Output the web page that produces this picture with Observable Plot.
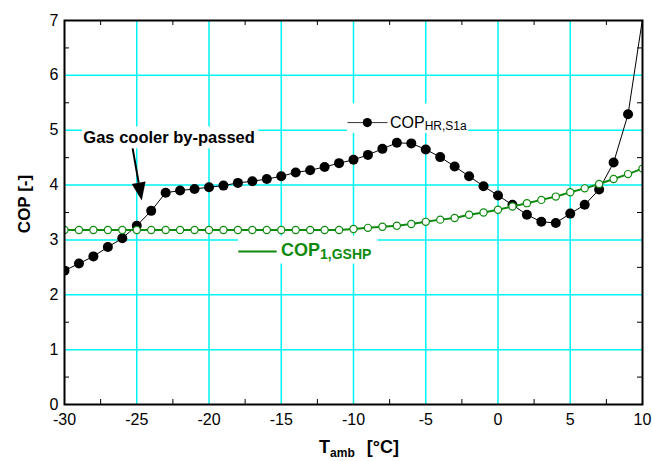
<!DOCTYPE html>
<html>
<head>
<meta charset="utf-8">
<script src="https://cdn.jsdelivr.net/npm/d3@7"></script>
<script src="https://cdn.jsdelivr.net/npm/@observablehq/plot@0.6"></script>
<style>
  html, body { margin: 0; padding: 0; background: #fff; }
  #chart svg { display: block; }
</style>
</head>
<body>
<div id="chart"></div>
<script>
// ---- Data ----
const tAmb = [-30,-29,-28,-27,-26,-25,-24,-23,-22,-21,-20,-19,-18,-17,-16,-15,-14,-13,-12,-11,
              -10,-9,-8,-7,-6,-5,-4,-3,-2,-1,0,1,2,3,4,5,6,7,8,9,10];
const copHR = [2.44,2.57,2.70,2.87,3.03,3.26,3.53,3.86,3.90,3.93,3.96,3.99,4.04,4.07,4.11,4.16,4.23,4.27,4.33,4.40,
               4.46,4.55,4.66,4.77,4.76,4.65,4.51,4.34,4.16,3.98,3.81,3.64,3.46,3.33,3.31,3.48,3.64,3.92,4.41,5.29,7.03];
const copGSHP = [3.18,3.18,3.18,3.18,3.18,3.18,3.18,3.18,3.18,3.18,3.18,3.18,3.18,3.18,3.18,3.18,3.18,3.18,3.18,3.18,
                 3.20,3.22,3.24,3.26,3.29,3.33,3.37,3.40,3.46,3.50,3.55,3.61,3.67,3.73,3.79,3.87,3.94,4.02,4.11,4.20,4.30];

const xTickLabels = [-30,-25,-20,-15,-10,-5,0,5,10];
const yTickLabels = [0,1,2,3,4,5,6,7];
const xGrid = [-25,-20,-15,-10,-5,0,5];
const yGrid = [1,2,3,4,5,6];
const xMinor = [-27.5,-22.5,-17.5,-12.5,-7.5,-2.5,2.5,7.5];
const yMinor = [0.5,1.5,2.5,3.5,4.5,5.5,6.5];

const seriesNames = ["COP", "HR,S1a", "1,GSHP"];
const annotationText = "Gas cooler by-passed";
const xTitle = ["T", "amb", "[°C]"];
const yTitle = "COP [-]";

// ---- Styling / layout constants ----
const W = 652, H = 461;
const mL = 64, mR = 10, mT = 20, mB = 57;
const FONT = "'Liberation Sans', Arial, Helvetica, sans-serif";
const CYAN = "#00f4f4";
const GREEN = "#0f8a0f";

const hrData = tAmb.map((t, i) => ({t, cop: copHR[i]}));
const gsData = tAmb.map((t, i) => ({t, cop: copGSHP[i]}));

const tickLenX = 5 / ((W - mL - mR) / 40);
const tickLenY = 5 / ((H - mT - mB) / 7);

// white boxes behind legend / annotation (data units)
const boxes = [
  {x1: -10.42, x2: -2.02, y1: 4.94, y2: 5.48},
  {x1: -17.96, x2: -8.30, y1: 2.56, y2: 3.07},
  {x1: -28.75, x2: -16.55, y1: 4.66, y2: 5.06}
];

const chart = Plot.plot({
  width: W, height: H,
  marginLeft: mL, marginRight: mR, marginTop: mT, marginBottom: mB,
  x: {domain: [-30, 10]},
  y: {domain: [0, 7]},
  style: {fontFamily: FONT, fontSize: "16px", color: "#000", background: "#fff", overflow: "visible"},
  marks: [
    Plot.ruleX(xGrid, {stroke: CYAN, strokeWidth: 1.5}),
    Plot.ruleY(yGrid, {stroke: CYAN, strokeWidth: 1.5}),
    Plot.rect(boxes, {x1: "x1", x2: "x2", y1: "y1", y2: "y2", fill: "white"}),
    // inward minor ticks
    Plot.ruleX(xMinor, {y1: 0, y2: tickLenY, stroke: "black", strokeWidth: 1}),
    Plot.ruleX(xMinor, {y1: 7 - tickLenY, y2: 7, stroke: "black", strokeWidth: 1}),
    Plot.ruleY(yMinor, {x1: -30, x2: -30 + tickLenX, stroke: "black", strokeWidth: 1}),
    Plot.ruleY(yMinor, {x1: 10 - tickLenX, x2: 10, stroke: "black", strokeWidth: 1}),
    // COP HR series
    Plot.line(hrData, {x: "t", y: "cop", stroke: "black", strokeWidth: 1, clip: true}),
    Plot.dot(hrData.filter(d => d.cop <= 7), {x: "t", y: "cop", r: 5, fill: "black", stroke: "none", clip: true}),
    // COP GSHP series
    Plot.line(gsData, {x: "t", y: "cop", stroke: GREEN, strokeWidth: 2, clip: true}),
    Plot.dot(gsData, {x: "t", y: "cop", r: 3.6, fill: "white", stroke: GREEN, strokeWidth: 1.2, clip: true}),
    Plot.frame({stroke: "black", strokeWidth: 2}),
    Plot.axisX({ticks: xTickLabels, tickSize: 0, tickPadding: 9, tickFormat: d => String(d), label: null, fontSize: 16}),
    Plot.axisY({ticks: yTickLabels, tickSize: 0, tickPadding: 6, tickFormat: d => String(d), label: null, fontSize: 16})
  ]
});

document.getElementById("chart").appendChild(chart);

// ---- rich-text annotations positioned through the plot's scales ----
const sx = chart.scale("x").apply, sy = chart.scale("y").apply;
const svg = d3.select(chart);
const g = svg.append("g").attr("font-family", FONT).attr("text-anchor", "start");

// HR legend
g.append("line").attr("x1", sx(-10.38)).attr("x2", sx(-7.61)).attr("y1", sy(5.13)).attr("y2", sy(5.13))
  .attr("stroke", "#333").attr("stroke-width", 1);
g.append("circle").attr("cx", sx(-9.01)).attr("cy", sy(5.13)).attr("r", 4.6).attr("fill", "black");
const t1 = g.append("text").attr("x", sx(-7.44)).attr("y", sy(5.03)).attr("font-size", 16)
  .attr("text-anchor", "start").attr("fill", "black");
t1.append("tspan").text(seriesNames[0]);
t1.append("tspan").attr("dy", 2).attr("font-size", 12).text(seriesNames[1]);

// GSHP legend
g.append("line").attr("x1", sx(-17.94)).attr("x2", sx(-15.28)).attr("y1", sy(2.78)).attr("y2", sy(2.78))
  .attr("stroke", GREEN).attr("stroke-width", 2);
const t2 = g.append("text").attr("x", sx(-14.98)).attr("y", sy(2.69)).attr("font-size", 18)
  .attr("text-anchor", "start").attr("font-weight", "bold").attr("fill", GREEN);
t2.append("tspan").text(seriesNames[0]);
t2.append("tspan").attr("dy", 3).attr("font-size", 14).text(seriesNames[2]);

// Gas cooler annotation + arrow
g.append("text").attr("x", sx(-28.66)).attr("y", sy(4.76)).attr("font-size", 16.5).attr("font-weight", "bold")
  .attr("text-anchor", "start").attr("fill", "black").text(annotationText);
const ax0 = sx(-25.25), ay0 = sy(4.66), ax1 = sx(-24.62), ay1 = sy(3.71);
const ang = Math.atan2(ay1 - ay0, ax1 - ax0);
const hl = 18, hw = 7;
const bx = ax1 - hl * Math.cos(ang), by = ay1 - hl * Math.sin(ang);
const px = -Math.sin(ang), py = Math.cos(ang);
g.append("line").attr("x1", ax0).attr("y1", ay0).attr("x2", bx).attr("y2", by)
  .attr("stroke", "black").attr("stroke-width", 2);
g.append("path").attr("d", `M${ax1},${ay1}L${bx + hw * px},${by + hw * py}L${bx - hw * px},${by - hw * py}Z`)
  .attr("fill", "black");

// axis titles
const xt = g.append("text").attr("x", (mL + W - mR) / 2 + 6).attr("y", H - 8).attr("text-anchor", "middle")
  .attr("font-size", 18).attr("font-weight", "bold").attr("fill", "black");
xt.append("tspan").text(xTitle[0]);
xt.append("tspan").attr("dy", 4).attr("font-size", 12).text(xTitle[1]);
xt.append("tspan").attr("dy", -4).attr("dx", 12).text(xTitle[2]);

g.append("text").attr("transform", `translate(30,${(mT + H - mB) / 2 - 8}) rotate(-90)`)
  .attr("text-anchor", "middle").attr("font-size", 17).attr("font-weight", "bold").attr("fill", "black")
  .text(yTitle);
</script>
</body>
</html>
